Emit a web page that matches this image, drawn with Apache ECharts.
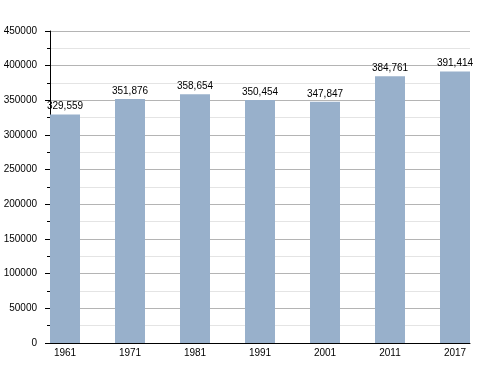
<!DOCTYPE html>
<html>
<head>
<meta charset="utf-8">
<script src="https://cdn.jsdelivr.net/npm/echarts@6/dist/echarts.min.js"></script>
<style>html,body{margin:0;padding:0;background:#fff}#c{width:500px;height:373px}</style>
</head>
<body>
<div id="c"></div>
<script>
const years = ['1961','1971','1981','1991','2001','2011','2017'];
const population = [329559, 351876, 358654, 350454, 347847, 384761, 391414];
const yTicks = [0, 50000, 100000, 150000, 200000, 250000, 300000, 350000, 400000, 450000];

const chart = echarts.init(document.getElementById('c'), null, {renderer: 'canvas'});
const font = 'Liberation Sans, Arial, sans-serif';
const pos = years.map((y, i) => i);
chart.setOption({
  animation: false,
  backgroundColor: '#fff',
  grid: {left: 50, right: 30, top: 31, bottom: 30, containLabel: false},
  xAxis: {
    type: 'value',
    min: -15/65,
    max: 6 + 15/65,
    axisLine: {show: true, onZero: false, lineStyle: {color: '#000', width: 1}},
    axisTick: {show: false},
    splitLine: {show: false},
    axisLabel: {
      customValues: pos,
      formatter: v => years[Math.round(v)],
      color: '#000', fontFamily: font, fontSize: 10, margin: 5
    }
  },
  yAxis: {
    type: 'value',
    min: yTicks[0],
    max: yTicks[yTicks.length - 1],
    interval: 50000,
    axisLine: {show: true, onZero: false, lineStyle: {color: '#000', width: 1}},
    axisTick: {show: true, length: 5, lineStyle: {color: '#000'}},
    minorTick: {show: true, splitNumber: 2, length: 3, lineStyle: {color: '#000'}},
    splitLine: {show: true, lineStyle: {color: '#b4b4b4', width: 1}},
    minorSplitLine: {show: true, lineStyle: {color: '#e4e4e4', width: 1}},
    axisLabel: {color: '#000', fontFamily: font, fontSize: 10, margin: 13, formatter: v => String(v)}
  },
  series: [{
    type: 'bar',
    barWidth: 30,
    data: population.map((v, i) => [i, v]),
    itemStyle: {color: '#98b0cb'},
    label: {
      show: true, position: 'top', distance: 3,
      color: '#000', fontFamily: font, fontSize: 10,
      formatter: p => p.value[1].toLocaleString('en-US')
    }
  }]
});
</script>
</body>
</html>
